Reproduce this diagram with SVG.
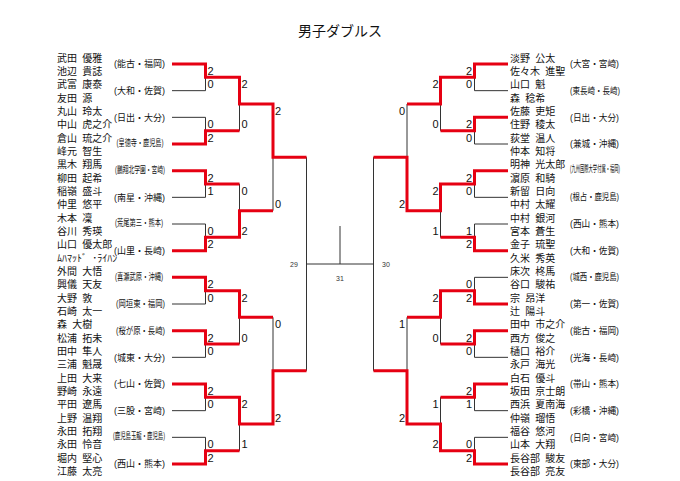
<svg xmlns="http://www.w3.org/2000/svg" width="680" height="481" viewBox="0 0 680 481">
<style>
.nm{font-family:"Liberation Sans","Noto Sans CJK JP",sans-serif;font-size:10px;word-spacing:2.5px;fill:#111}
.sc{font-family:"Liberation Sans","Noto Sans CJK JP",sans-serif;font-size:9.5px;fill:#111}
.num{font-family:"Liberation Sans",Arial,sans-serif;font-size:11px;fill:#111}
.rn{text-anchor:end}
.mn{font-family:"Liberation Sans",Arial,sans-serif;font-size:7px;fill:#333;text-anchor:middle}
.thin{fill:none;stroke:#333;stroke-width:1}
.red{fill:none;stroke:#e60012;stroke-width:3;stroke-linejoin:miter}
.ttl{font-family:"Noto Sans CJK JP","Noto Sans",sans-serif;font-size:14px;fill:#111;text-anchor:middle}
</style>
<rect width="680" height="481" fill="#fff"/>
<text class="ttl" x="340" y="36">男子ダブルス</text>

<g id="connectors">
<path class="thin" d="M172 64H205.5V90.67H172M205.5 77.33H239.5M172 117.33H205.5V144H172M205.5 130.67H239.5M172 170.67H205.5V197.33H172M205.5 184H239.5M172 224H205.5V250.67H172M205.5 237.33H239.5M172 277.33H205.5V304H172M205.5 290.67H239.5M172 330.67H205.5V357.33H172M205.5 344H239.5M172 384H205.5V410.67H172M205.5 397.33H239.5M172 437.33H205.5V464H172M205.5 450.67H239.5M239.5 77.33V130.67M239.5 104H273M239.5 184V237.33M239.5 210.67H273M239.5 290.67V344M239.5 317.33H273M239.5 397.33V450.67M239.5 424H273M273 104V210.67M273 157.33H306.5M273 317.33V424M273 370.67H306.5M306.5 157.33V370.67"/>
<path class="thin" d="M508 64H474.5V90.67H508M474.5 77.33H440.5M508 117.33H474.5V144H508M474.5 130.67H440.5M508 170.67H474.5V197.33H508M474.5 184H440.5M508 224H474.5V250.67H508M474.5 237.33H440.5M508 277.33H474.5V304H508M474.5 290.67H440.5M508 330.67H474.5V357.33H508M474.5 344H440.5M508 384H474.5V410.67H508M474.5 397.33H440.5M508 437.33H474.5V464H508M474.5 450.67H440.5M440.5 77.33V130.67M440.5 104H407M440.5 184V237.33M440.5 210.67H407M440.5 290.67V344M440.5 317.33H407M440.5 397.33V450.67M440.5 424H407M407 104V210.67M407 157.33H373.5M407 317.33V424M407 370.67H373.5M373.5 157.33V370.67"/>
<path class="thin" d="M306.5 264H373.5M340 226V264"/>
<path class="red" d="M172 64H205.5V77.33H239.5V104H273V157.33H306.5M172 144H205.5V130.67H239.5M172 170.67H205.5V184H239.5M172 250.67H205.5V237.33H239.5V210.67H273M172 277.33H205.5V290.67H239.5V317.33H273M172 330.67H205.5V344H239.5M172 384H205.5V397.33H239.5V424H273V370.67H306.5M172 464H205.5V450.67H239.5"/>
<path class="red" d="M508 64H474.5V77.33H440.5V104H407M508 117.33H474.5V130.67H440.5M508 170.67H474.5V184H440.5V210.67H407V157.33H373.5M508 250.67H474.5V237.33H440.5M508 304H474.5V290.67H440.5V317.33H407M508 330.67H474.5V344H440.5M508 384H474.5V397.33H440.5M508 464H474.5V450.67H440.5V424H407V370.67H373.5"/>
<text class="mn" x="294" y="267">29</text>
<text class="mn" x="386" y="267">30</text>
<text class="mn" x="340" y="281">31</text>
</g>

<g id="scores">
<text class="num" x="207.5" y="75">2</text><text class="num" x="207.5" y="88.2">0</text>
<text class="num" x="207.5" y="128.3">0</text><text class="num" x="207.5" y="141.5">2</text>
<text class="num" x="207.5" y="181.7">2</text><text class="num" x="207.5" y="194.8">1</text>
<text class="num" x="207.5" y="235">0</text><text class="num" x="207.5" y="248.2">2</text>
<text class="num" x="207.5" y="288.3">2</text><text class="num" x="207.5" y="301.5">0</text>
<text class="num" x="207.5" y="341.7">2</text><text class="num" x="207.5" y="354.8">0</text>
<text class="num" x="207.5" y="395">2</text><text class="num" x="207.5" y="408.2">0</text>
<text class="num" x="207.5" y="448.3">0</text><text class="num" x="207.5" y="461.5">2</text>
<text class="num" x="241.5" y="88.3">2</text><text class="num" x="241.5" y="128.2">0</text>
<text class="num" x="241.5" y="195">0</text><text class="num" x="241.5" y="234.8">2</text>
<text class="num" x="241.5" y="301.7">2</text><text class="num" x="241.5" y="341.5">0</text>
<text class="num" x="241.5" y="408.3">2</text><text class="num" x="241.5" y="448.2">1</text>
<text class="num" x="275" y="115">2</text><text class="num" x="275" y="208.2">0</text>
<text class="num" x="275" y="328.3">0</text><text class="num" x="275" y="421.5">2</text>
<text class="num rn" x="472" y="75">2</text><text class="num rn" x="472" y="88.2">0</text>
<text class="num rn" x="472" y="128.3">2</text><text class="num rn" x="472" y="141.5">0</text>
<text class="num rn" x="472" y="181.7">2</text><text class="num rn" x="472" y="194.8">0</text>
<text class="num rn" x="472" y="235">1</text><text class="num rn" x="472" y="248.2">2</text>
<text class="num rn" x="472" y="288.3">0</text><text class="num rn" x="472" y="301.5">2</text>
<text class="num rn" x="472" y="341.7">2</text><text class="num rn" x="472" y="354.8">0</text>
<text class="num rn" x="472" y="395">2</text><text class="num rn" x="472" y="408.2">1</text>
<text class="num rn" x="472" y="448.3">0</text><text class="num rn" x="472" y="461.5">2</text>
<text class="num rn" x="438.5" y="88.3">2</text><text class="num rn" x="438.5" y="128.2">0</text>
<text class="num rn" x="438.5" y="195">2</text><text class="num rn" x="438.5" y="234.8">1</text>
<text class="num rn" x="438.5" y="301.7">2</text><text class="num rn" x="438.5" y="341.5">0</text>
<text class="num rn" x="438.5" y="408.3">1</text><text class="num rn" x="438.5" y="448.2">2</text>
<text class="num rn" x="405" y="115">0</text><text class="num rn" x="405" y="208.2">2</text>
<text class="num rn" x="405" y="328.3">1</text><text class="num rn" x="405" y="421.5">2</text>
</g>

<g id="L01"><text class="nm" x="57" y="61.5">武田 優雅</text><text class="nm" x="57" y="74.8">池辺 貴誌</text><text class="sc" x="114" y="67.3" textLength="51" lengthAdjust="spacingAndGlyphs">(能古・福岡)</text></g>
<g id="L02"><text class="nm" x="57" y="88.2">武富 康泰</text><text class="nm" x="57" y="101.5">友田 源</text><text class="sc" x="114" y="94" textLength="51" lengthAdjust="spacingAndGlyphs">(大和・佐賀)</text></g>
<g id="L03"><text class="nm" x="57" y="114.8">丸山 玲太</text><text class="nm" x="57" y="128.2">中山 虎之介</text><text class="sc" x="114" y="120.6" textLength="51" lengthAdjust="spacingAndGlyphs">(日出・大分)</text></g>
<g id="L04"><text class="nm" x="57" y="141.5">倉山 琉之介</text><text class="nm" x="57" y="154.8">峰元 智生</text><text class="sc" x="116.5" y="146.2" font-size="6.2" textLength="47" lengthAdjust="spacingAndGlyphs">(皇徳寺・鹿児島)</text></g>
<g id="L05"><text class="nm" x="57" y="168.2">黒木 翔馬</text><text class="nm" x="57" y="181.5">柳田 起希</text><text class="sc" x="115" y="172.9" font-size="6.2" textLength="50" lengthAdjust="spacingAndGlyphs">(鵬翔北学園・宮崎)</text></g>
<g id="L06"><text class="nm" x="57" y="194.8">稲嶺 盛斗</text><text class="nm" x="57" y="208.2">仲里 悠平</text><text class="sc" x="114" y="200.6" textLength="51" lengthAdjust="spacingAndGlyphs">(南星・沖縄)</text></g>
<g id="L07"><text class="nm" x="57" y="221.5">木本 凜</text><text class="nm" x="57" y="234.8">谷川 秀瑛</text><text class="sc" x="115" y="226.4" font-size="6.8" textLength="48" lengthAdjust="spacingAndGlyphs">(荒尾第三・熊本)</text></g>
<g id="L08"><text class="nm" x="57" y="248.2">山口 優太郎</text><text class="nm" x="57" y="261.5" font-size="9">ﾑﾊﾏｯﾄﾞ ･ﾗｲﾊﾝ</text><text class="sc" x="114" y="254" textLength="51" lengthAdjust="spacingAndGlyphs">(山里・長崎)</text></g>
<g id="L09"><text class="nm" x="57" y="274.8">外間 大悟</text><text class="nm" x="57" y="288.2">興儀 天友</text><text class="sc" x="115" y="279.7" font-size="6.8" textLength="48" lengthAdjust="spacingAndGlyphs">(喜瀬武原・沖縄)</text></g>
<g id="L10"><text class="nm" x="57" y="301.5">大野 敦</text><text class="nm" x="57" y="314.8">石崎 太一</text><text class="sc" x="116" y="307" font-size="8.3" textLength="49" lengthAdjust="spacingAndGlyphs">(岡垣東・福岡)</text></g>
<g id="L11"><text class="nm" x="57" y="328.2">森 大樹</text><text class="nm" x="57" y="341.5">松浦 拓未</text><text class="sc" x="116" y="333.6" font-size="8.3" textLength="49" lengthAdjust="spacingAndGlyphs">(桜が原・長崎)</text></g>
<g id="L12"><text class="nm" x="57" y="354.8">田中 隼人</text><text class="nm" x="57" y="368.2">三浦 魁晟</text><text class="sc" x="114" y="360.6" textLength="51" lengthAdjust="spacingAndGlyphs">(城東・大分)</text></g>
<g id="L13"><text class="nm" x="57" y="381.5">上田 大来</text><text class="nm" x="57" y="394.8">野崎 永遠</text><text class="sc" x="114" y="387.3" textLength="51" lengthAdjust="spacingAndGlyphs">(七山・佐賀)</text></g>
<g id="L14"><text class="nm" x="57" y="408.2">平田 遼馬</text><text class="nm" x="57" y="421.5">上野 温翔</text><text class="sc" x="114" y="414" textLength="51" lengthAdjust="spacingAndGlyphs">(三股・宮崎)</text></g>
<g id="L15"><text class="nm" x="57" y="434.8">永田 拓翔</text><text class="nm" x="57" y="448.2">永田 怜音</text><text class="sc" x="113" y="439.2" font-size="5.3" textLength="52" lengthAdjust="spacingAndGlyphs">(鹿児島玉龍・鹿児島)</text></g>
<g id="L16"><text class="nm" x="57" y="461.5">堀内 堅心</text><text class="nm" x="57" y="474.8">江藤 太亮</text><text class="sc" x="114" y="467.3" textLength="51" lengthAdjust="spacingAndGlyphs">(西山・熊本)</text></g>

<g id="R01"><text class="nm" x="510" y="61.5">淡野 公太</text><text class="nm" x="510" y="74.8">佐々木 進聖</text><text class="sc" x="570" y="67.3" textLength="49" lengthAdjust="spacingAndGlyphs">(大宮・宮崎)</text></g>
<g id="R02"><text class="nm" x="510" y="88.2">山口 魁</text><text class="nm" x="510" y="101.5">森 稔希</text><text class="sc" x="570" y="93.6" font-size="8.3" textLength="50" lengthAdjust="spacingAndGlyphs">(東長崎・長崎)</text></g>
<g id="R03"><text class="nm" x="510" y="114.8">佐藤 吏矩</text><text class="nm" x="510" y="128.2">住野 稜太</text><text class="sc" x="570" y="120.6" textLength="49" lengthAdjust="spacingAndGlyphs">(日出・大分)</text></g>
<g id="R04"><text class="nm" x="510" y="141.5">荻堂 温人</text><text class="nm" x="510" y="154.8">仲本 知将</text><text class="sc" x="570" y="147.3" textLength="49" lengthAdjust="spacingAndGlyphs">(兼城・沖縄)</text></g>
<g id="R05"><text class="nm" x="510" y="168.2">明神 光太郎</text><text class="nm" x="510" y="181.5">濵原 和騎</text><text class="sc" x="570" y="172.3" font-size="4.8" textLength="50" lengthAdjust="spacingAndGlyphs">(九州国際大学付属・福岡)</text></g>
<g id="R06"><text class="nm" x="510" y="194.8">新留 日向</text><text class="nm" x="510" y="208.2">中村 太耀</text><text class="sc" x="570" y="200.4" font-size="8.5" textLength="49" lengthAdjust="spacingAndGlyphs">(根占・鹿児島)</text></g>
<g id="R07"><text class="nm" x="510" y="221.5">中村 銀河</text><text class="nm" x="510" y="234.8">宮本 蒼生</text><text class="sc" x="570" y="227.3" textLength="49" lengthAdjust="spacingAndGlyphs">(西山・熊本)</text></g>
<g id="R08"><text class="nm" x="510" y="248.2">金子 琉聖</text><text class="nm" x="510" y="261.5">久米 秀英</text><text class="sc" x="570" y="254" textLength="49" lengthAdjust="spacingAndGlyphs">(大和・佐賀)</text></g>
<g id="R09"><text class="nm" x="510" y="274.8">床次 柊馬</text><text class="nm" x="510" y="288.2">谷口 駿祐</text><text class="sc" x="570" y="280.4" font-size="8.5" textLength="49" lengthAdjust="spacingAndGlyphs">(城西・鹿児島)</text></g>
<g id="R10"><text class="nm" x="510" y="301.5">宗 昂洋</text><text class="nm" x="510" y="314.8">辻 陽斗</text><text class="sc" x="570" y="307.3" textLength="49" lengthAdjust="spacingAndGlyphs">(第一・佐賀)</text></g>
<g id="R11"><text class="nm" x="510" y="328.2">田中 市之介</text><text class="nm" x="510" y="341.5">西方 俊之</text><text class="sc" x="570" y="334" textLength="49" lengthAdjust="spacingAndGlyphs">(能古・福岡)</text></g>
<g id="R12"><text class="nm" x="510" y="354.8">樋口 裕介</text><text class="nm" x="510" y="368.2">永戸 海光</text><text class="sc" x="570" y="360.6" textLength="49" lengthAdjust="spacingAndGlyphs">(光海・長崎)</text></g>
<g id="R13"><text class="nm" x="510" y="381.5">白石 優斗</text><text class="nm" x="510" y="394.8">坂田 京士朗</text><text class="sc" x="570" y="387.3" textLength="49" lengthAdjust="spacingAndGlyphs">(帯山・熊本)</text></g>
<g id="R14"><text class="nm" x="510" y="408.2">西浜 夏南海</text><text class="nm" x="510" y="421.5">仲嶺 瑠悟</text><text class="sc" x="570" y="414" textLength="49" lengthAdjust="spacingAndGlyphs">(彩橋・沖縄)</text></g>
<g id="R15"><text class="nm" x="510" y="434.8">福谷 悠河</text><text class="nm" x="510" y="448.2">山本 大翔</text><text class="sc" x="570" y="440.6" textLength="49" lengthAdjust="spacingAndGlyphs">(日向・宮崎)</text></g>
<g id="R16"><text class="nm" x="510" y="461.5">長谷部 駿友</text><text class="nm" x="510" y="474.8">長谷部 亮友</text><text class="sc" x="570" y="467.3" textLength="49" lengthAdjust="spacingAndGlyphs">(東部・大分)</text></g>
</svg>
